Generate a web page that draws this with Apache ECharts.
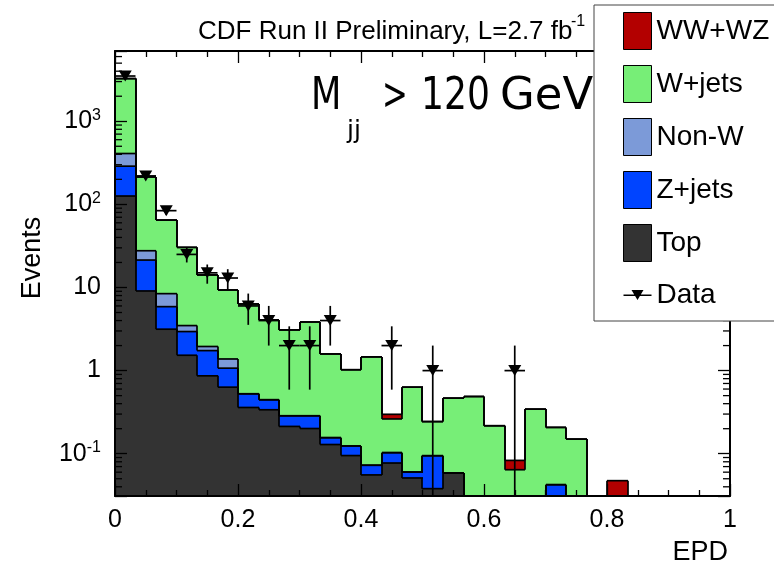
<!DOCTYPE html>
<html>
<head>
<meta charset="utf-8">
<title>EPD, Mjj > 120 GeV</title>
<script src="https://cdn.jsdelivr.net/npm/echarts@6.0.0/dist/echarts.min.js"></script>
<style>
  html, body { margin: 0; padding: 0; background: #fff; }
  #main { width: 774px; height: 570px; }
</style>
</head>
<body>
<div id="main"></div>
<script>
// EPD distribution, 30 bins between 0 and 1, log y scale
const nBins = 30;
const binWidth = 1 / nBins;
const yMin = 0.031;
const yMax = 7000;
const FONT = '"Liberation Sans", Arial, Helvetica, sans-serif';
const BIG_FONT = '"DejaVu Sans", sans-serif';

// backgrounds, listed bottom of the stack first
const topEvents = [126, 9.08, 3.15, 1.53, 0.865, 0.632, 0.36, 0.338, 0.213, 0.201,
  0.129, 0.095, 0.0556, 0.0773, 0.0511, 0.038, 0.0586, 0, 0, 0,
  0, 0, 0, 0, 0, 0, 0, 0, 0, 0];
const zJets = [162, 12.3, 2.73, 1.42, 0.875, 0.438, 0.166, 0.108, 0.073, 0.085,
  0.027, 0.029, 0.0171, 0.0257, 0.0092, 0.0566, 0, 0, 0, 0,
  0, 0.0424, 0, 0, 0, 0, 0, 0, 0, 0];
const nonW = [121, 6.3, 2.55, 0.53, 0.21, 0.31, 0, 0, 0, 0,
  0, 0, 0, 0, 0, 0, 0, 0, 0, 0,
  0, 0, 0, 0, 0, 0, 0, 0, 0, 0];
const wJets = [2851, 186, 56.3, 26.9, 12.2, 7.95, 5.81, 3.62, 2.80, 3.56,
  1.43, 0.90, 1.39, 0.159, 0.572, 0.149, 0.408, 0.488, 0.217, 0.0642,
  0.344, 0.165, 0.150, 0, 0, 0, 0, 0, 0, 0];
const diboson = [0, 0, 0, 0, 0, 0, 0, 0, 0, 0,
  0, 0, 0, 0.036, 0, 0, 0, 0, 0, 0.0189,
  0, 0, 0, 0, 0.0474, 0, 0, 0, 0, 0];

// observed events and their error bars
const dataEvents = [3500, 220, 84, 25, 15, 13, 6, 4, 2, 2,
  4, 0, 0, 2, 0, 1, 0, 0, 0, 1,
  0, 0, 0, 0, 0, 0, 0, 0, 0, 0];
const dataErr = [59, 14.8, 9.2, 5, 3.9, 3.6, 2.45, 2, 1.41, 1.41,
  2, 0, 0, 1.41, 0, 1, 0, 0, 0, 1,
  0, 0, 0, 0, 0, 0, 0, 0, 0, 0];

const components = [
  {name: 'Top', values: topEvents, color: '#333333'},
  {name: 'Z+jets', values: zJets, color: '#0044ff'},
  {name: 'Non-W', values: nonW, color: '#7c9ad8'},
  {name: 'W+jets', values: wJets, color: '#77ee77'},
  {name: 'WW+WZ', values: diboson, color: '#b30000'}
];

// running sums = height of each stacked level
const levels = [];
let running = new Array(nBins).fill(0);
components.forEach(c => {
  running = running.map((v, i) => v + c.values[i]);
  levels.push(running.slice());
});

const clampY = v => Math.max(v, yMin);
const binCenter = i => (i + 0.5) * binWidth;

const series = [];

/* filled boxes of every component */
components.forEach((c, k) => {
  const boxes = [];
  c.values.forEach((v, i) => {
    if (v <= 0) return;
    const lower = k === 0 ? 0 : levels[k - 1][i];
    boxes.push([binCenter(i), clampY(lower), clampY(levels[k][i])]);
  });
  series.push({
    type: 'custom',
    name: c.name,
    silent: true,
    z: 2,
    encode: {x: 0, y: [1, 2]},
    data: boxes,
    renderItem: (params, api) => {
      const xc = api.value(0);
      const a = api.coord([xc - binWidth / 2, api.value(2)]);
      const b = api.coord([xc + binWidth / 2, api.value(1)]);
      // whole pixels so neighbouring bins leave no seam
      const left = Math.round(a[0]);
      const right = Math.round(b[0]);
      return {
        type: 'rect',
        shape: {x: left, y: a[1], width: right - left, height: b[1] - a[1]},
        style: {fill: c.color}
      };
    }
  });
});

/* black step outline of every stacked level */
const lineStyle = {stroke: '#000', lineWidth: 1.7};
series.push({
  type: 'custom',
  name: 'outline',
  silent: true,
  z: 3,
  encode: {x: 0, y: 1},
  data: levels[0].map((v, i) => [binCenter(i), yMin, i]),
  renderItem: (params, api) => {
    const i = api.value(2);
    const x0 = api.value(0) - binWidth / 2;
    const x1 = api.value(0) + binWidth / 2;
    const children = [];
    levels.forEach(L => {
      const h = clampY(L[i]);
      const prev = i > 0 ? clampY(L[i - 1]) : yMin;
      const p0 = api.coord([x0, h]);
      const p1 = api.coord([x1, h]);
      const q = api.coord([x0, prev]);
      children.push({type: 'line', shape: {x1: Math.round(p0[0]), y1: p0[1], x2: Math.round(p1[0]), y2: p1[1]}, style: lineStyle});
      children.push({type: 'line', shape: {x1: Math.round(q[0]), y1: q[1], x2: Math.round(p0[0]), y2: p0[1]}, style: lineStyle});
    });
    return {type: 'group', children: children};
  }
});

/* data error bars */
const errData = [];
dataEvents.forEach((n, i) => {
  if (n > 0) errData.push([binCenter(i), n, clampY(n - dataErr[i]), n + dataErr[i]]);
});
series.push({
  type: 'custom',
  name: 'errors',
  silent: true,
  z: 5,
  encode: {x: 0, y: [1, 2, 3]},
  data: errData,
  renderItem: (params, api) => {
    const xc = api.value(0);
    const lo = api.coord([xc, api.value(2)]);
    const hi = api.coord([xc, api.value(3)]);
    const l = api.coord([xc - binWidth / 2, api.value(1)]);
    const r = api.coord([xc + binWidth / 2, api.value(1)]);
    return {
      type: 'group',
      children: [
        {type: 'line', shape: {x1: lo[0], y1: lo[1], x2: hi[0], y2: hi[1]}, style: lineStyle},
        {type: 'line', shape: {x1: l[0], y1: l[1], x2: r[0], y2: r[1]}, style: lineStyle}
      ]
    };
  }
});

/* data markers */
series.push({
  type: 'scatter',
  name: 'Data',
  silent: true,
  z: 6,
  symbol: 'triangle',
  symbolRotate: 180,
  symbolSize: [13, 11],
  itemStyle: {color: '#000', opacity: 1},
  data: dataEvents.map((n, i) => n > 0 ? [binCenter(i), n] : null).filter(p => p)
});

/* ROOT style minor ticks for the log axis, on both sides */
const minorTickValues = [];
for (let e = -2; e <= 3; e++) {
  for (let m = 2; m <= 9; m++) {
    const v = m * Math.pow(10, e);
    if (v > yMin && v < yMax) minorTickValues.push(v);
  }
}
series.push({
  type: 'custom',
  name: 'yMinorTicks',
  silent: true,
  z: 10,
  encode: {x: 0, y: 1},
  data: minorTickValues.map(v => [0, v]),
  renderItem: (params, api) => {
    const a = api.coord([0, api.value(1)]);
    const b = api.coord([1, api.value(1)]);
    return {
      type: 'group',
      children: [
        {type: 'line', shape: {x1: a[0], y1: a[1], x2: a[0] + 7, y2: a[1]}, style: {stroke: '#000', lineWidth: 1.3}},
        {type: 'line', shape: {x1: b[0], y1: b[1], x2: b[0] - 7, y2: b[1]}, style: {stroke: '#000', lineWidth: 1.3}}
      ]
    };
  }
});

function yLabel(v) {
  const lg = Math.log10(v);
  const e = Math.round(lg);
  if (Math.abs(lg - e) > 1e-6) return '';
  if (e === 0) return '1';
  if (e === 1) return '10';
  return '10{sup|' + e + '}';
}

const frameLine = {show: true, onZero: false, lineStyle: {color: '#000', width: 2}};
const majorTick = {show: true, inside: true, length: 12, lineStyle: {color: '#000', width: 1.3}};
const minorTick = {show: true, splitNumber: 4, length: 6, lineStyle: {color: '#000', width: 1.3}};

const chart = echarts.init(document.getElementById('main'), null, {renderer: 'canvas'});
chart.setOption({
  animation: false,
  backgroundColor: '#fff',
  grid: {left: 115, right: 44, top: 51, bottom: 74, containLabel: false, outerBoundsMode: 'none'},
  xAxis: [{
    type: 'value', position: 'bottom', min: 0, max: 1, interval: 0.2, z: 10,
    axisLine: frameLine, axisTick: majorTick, minorTick: minorTick,
    splitLine: {show: false}, minorSplitLine: {show: false},
    axisLabel: {fontSize: 25, fontFamily: FONT, color: '#000', margin: 12}
  }, {
    type: 'value', position: 'top', min: 0, max: 1, interval: 0.2, z: 10,
    axisLine: frameLine, axisTick: majorTick, minorTick: minorTick,
    splitLine: {show: false}, axisLabel: {show: false}
  }],
  yAxis: [{
    type: 'log', logBase: 10, min: yMin, max: yMax, startValue: yMin, z: 10,
    axisLine: frameLine, axisTick: majorTick,
    splitLine: {show: false},
    axisLabel: {
      fontSize: 25, fontFamily: FONT, color: '#000', margin: 14,
      formatter: yLabel,
      rich: {sup: {fontSize: 16, fontFamily: FONT, color: '#000', verticalAlign: 'top', padding: [0, 0, 12, 0]}}
    }
  }, {
    type: 'log', logBase: 10, min: yMin, max: yMax, position: 'right', z: 10,
    axisLine: frameLine, axisTick: majorTick,
    splitLine: {show: false}, axisLabel: {show: false}
  }],
  legend: {
    z: 20,
    left: 594, top: 5,
    orient: 'vertical',
    selectedMode: false,
    itemWidth: 28, itemHeight: 37, itemGap: 15,
    backgroundColor: '#fff', borderColor: '#444', borderWidth: 1, borderRadius: 0,
    padding: [7, 40, 7, 29],
    textStyle: {fontSize: 28, fontFamily: FONT, color: '#000'},
    data: [
      {name: 'WW+WZ', icon: 'rect', itemStyle: {color: '#b30000', borderColor: '#000', borderWidth: 1}},
      {name: 'W+jets', icon: 'rect', itemStyle: {color: '#77ee77', borderColor: '#000', borderWidth: 1}},
      {name: 'Non-W', icon: 'rect', itemStyle: {color: '#7c9ad8', borderColor: '#000', borderWidth: 1}},
      {name: 'Z+jets', icon: 'rect', itemStyle: {color: '#0044ff', borderColor: '#000', borderWidth: 1}},
      {name: 'Top', icon: 'rect', itemStyle: {color: '#333333', borderColor: '#000', borderWidth: 1}},
      {name: 'Data', icon: 'path://M0,0L0.01,0L0.01,0.01Z M28,37L27.99,37L27.99,36.99Z M0,17.4L28,17.4L28,18.9L0,18.9Z M8,13L20,13L14,23Z',
        itemStyle: {color: '#000', borderWidth: 0}}
    ]
  },
  graphic: [
    {type: 'text', x: 198, y: 32, z: 30, style: {text: 'CDF Run II Preliminary, L=2.7 fb', fontSize: 26, fontFamily: FONT, fill: '#000', verticalAlign: 'middle'}},
    {type: 'text', x: 571, y: 22, z: 30, style: {text: '-1', fontSize: 16, fontFamily: FONT, fill: '#000', verticalAlign: 'middle'}},
    {type: 'text', x: 311, y: 98, scaleX: 0.8, z: 30, style: {text: 'M', fontSize: 44, fontFamily: BIG_FONT, fill: '#000', verticalAlign: 'middle'}},
    {type: 'text', x: 347, y: 131, z: 30, style: {text: 'jj', fontSize: 25, fontFamily: BIG_FONT, fill: '#000', verticalAlign: 'middle'}},
    {type: 'text', x: 382, y: 98, scaleX: 0.7, z: 30, style: {text: '>', fontSize: 44, fontFamily: BIG_FONT, fill: '#000', verticalAlign: 'middle'}},
    {type: 'text', x: 421, y: 98, scaleX: 0.82, z: 30, style: {text: '120', fontSize: 44, fontFamily: BIG_FONT, fill: '#000', verticalAlign: 'middle'}},
    {type: 'text', x: 500, y: 98, scaleX: 1.02, z: 30, style: {text: 'GeV', fontSize: 44, fontFamily: BIG_FONT, fill: '#000', verticalAlign: 'middle'}},
    {type: 'text', x: 33, y: 258, rotation: Math.PI / 2, z: 30, style: {text: 'Events', fontSize: 27, fontFamily: FONT, fill: '#000', align: 'center', verticalAlign: 'middle'}},
    {type: 'text', x: 728, y: 553, z: 30, style: {text: 'EPD', fontSize: 27, fontFamily: FONT, fill: '#000', align: 'right', verticalAlign: 'middle'}}
  ],
  series: series
});
</script>
</body>
</html>
